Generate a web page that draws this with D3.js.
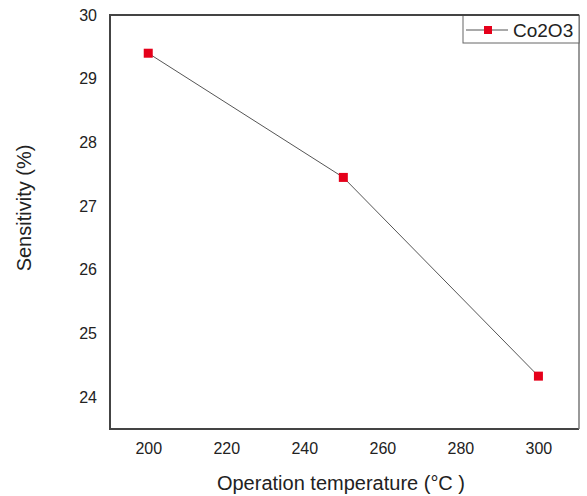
<!DOCTYPE html>
<html>
<head>
<meta charset="utf-8">
<script src="https://cdn.jsdelivr.net/npm/d3@7"></script>
<style>
  body { margin: 0; background: #fff; }
  text { font-family: "Liberation Sans", Arial, sans-serif; fill: #222; }
</style>
</head>
<body>
<div id="container"></div>
<script>
/* DATA */
const temps = [200, 250, 300];
const sensitivity = [29.4, 27.45, 24.33];
const xTicks = [200, 220, 240, 260, 280, 300];
const yTicks = [24, 25, 26, 27, 28, 29, 30];
const seriesName = "Co2O3";

/* CONSTANTS */
const width = 587, height = 496;
const margin = { top: 15, right: 8, bottom: 67, left: 110 };

const svg = d3.select("#container")
  .append("svg")
  .attr("width", width)
  .attr("height", height);

const xScale = d3.scaleLinear()
  .domain([190.2, 310.4])
  .range([margin.left, width - margin.right]);

const yScale = d3.scaleLinear()
  .domain([23.5, 30])
  .range([height - margin.bottom, margin.top]);

// axes (labels only, no tick marks)
const xAxis = svg.append("g")
  .attr("transform", `translate(0, ${height - margin.bottom})`)
  .call(d3.axisBottom(xScale).tickValues(xTicks).tickFormat(d3.format("d"))
    .tickSize(0).tickPadding(14));
xAxis.select(".domain").remove();
xAxis.selectAll("text").style("font-size", "16px").style("fill", "#222");

const yAxis = svg.append("g")
  .attr("transform", `translate(${margin.left}, 0)`)
  .call(d3.axisLeft(yScale).tickValues(yTicks).tickFormat(d3.format("d"))
    .tickSize(0).tickPadding(13));
yAxis.select(".domain").remove();
yAxis.selectAll("text").style("font-size", "16px").style("fill", "#222");

// frame
const x0 = margin.left, x1 = width - margin.right;
const y0 = margin.top, y1 = height - margin.bottom;
svg.append("path")
  .attr("d", `M${x1},${y0}L${x0},${y0}L${x0},${y1}L${x1},${y1}`)
  .attr("fill", "none").attr("stroke", "#444").attr("stroke-width", 2);
svg.append("line")
  .attr("x1", x1).attr("x2", x1).attr("y1", y0).attr("y2", y1)
  .attr("stroke", "#777").attr("stroke-width", 1.5);

// line
const points = temps.map((t, i) => ({ t: t, v: sensitivity[i] }));
svg.append("path")
  .datum(points)
  .attr("fill", "none")
  .attr("stroke", "#555")
  .attr("stroke-width", 1)
  .attr("d", d3.line().x(d => xScale(d.t)).y(d => yScale(d.v)));

const ms = 9;
svg.selectAll(".pt")
  .data(points)
  .join("rect")
  .attr("class", "pt")
  .attr("x", d => xScale(d.t) - ms / 2)
  .attr("y", d => yScale(d.v) - ms / 2)
  .attr("width", ms).attr("height", ms)
  .attr("fill", "#e5001a");

// legend
const lg = svg.append("g");
lg.append("rect")
  .attr("x", 463).attr("y", y0)
  .attr("width", x1 - 463).attr("height", 28)
  .attr("fill", "#fff").attr("stroke", "#666").attr("stroke-width", 1);
lg.append("line")
  .attr("x1", x0).attr("x2", x1).attr("y1", y0).attr("y2", y0)
  .attr("stroke", "#444").attr("stroke-width", 2);
lg.append("line")
  .attr("x1", 466).attr("x2", 508).attr("y1", 30).attr("y2", 30)
  .attr("stroke", "#555").attr("stroke-width", 1);
lg.append("rect")
  .attr("x", 484).attr("y", 26).attr("width", 8).attr("height", 8)
  .attr("fill", "#e5001a");
lg.append("text")
  .attr("x", 513).attr("y", 37)
  .style("font-size", "19px")
  .text(seriesName);

// axis titles
svg.append("text")
  .attr("x", 341).attr("y", 490)
  .attr("text-anchor", "middle")
  .style("font-size", "20px")
  .text("Operation temperature (°C )");

svg.append("text")
  .attr("transform", "translate(31, 208) rotate(-90)")
  .attr("text-anchor", "middle")
  .style("font-size", "20px")
  .text("Sensitivity (%)");
</script>
</body>
</html>
